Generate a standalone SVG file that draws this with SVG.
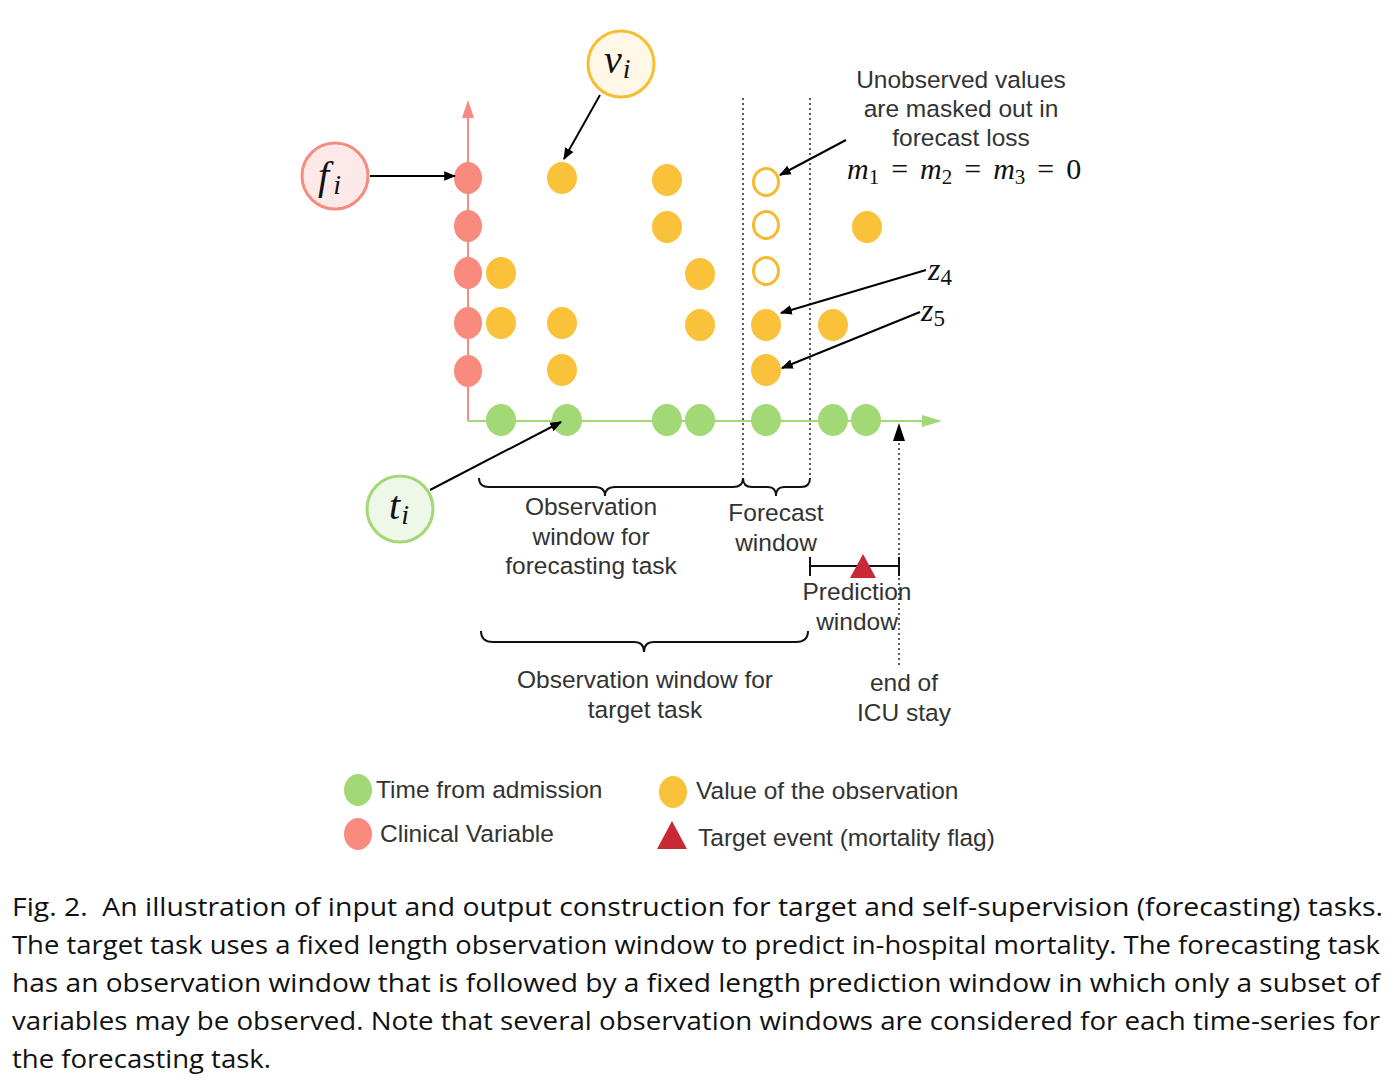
<svg xmlns="http://www.w3.org/2000/svg" width="1398" height="1082" viewBox="0 0 1398 1082">
<defs>
<style>
.lbl{font-family:"Liberation Sans",Arial,sans-serif;font-size:24.5px;fill:#333;text-anchor:middle}
.leg{font-family:"Liberation Sans",Arial,sans-serif;font-size:24.5px;fill:#333}
.math{font-family:"Liberation Serif","DejaVu Serif",serif;font-style:italic;fill:#111}
.mathn{font-family:"Liberation Serif","DejaVu Serif",serif;fill:#111}
.cap{font-family:"Open Sans","Liberation Sans",sans-serif;font-size:26px;fill:#111}
.red{fill:#f88a7e}
.org{fill:#fac23b}
.grn{fill:#a2d875}
.hol{fill:#fff;stroke:#f7b92e;stroke-width:3}
.arr{stroke:#000;stroke-width:2;fill:none;marker-end:url(#ah)}
.dot{stroke:#333;stroke-width:1.6;stroke-dasharray:2 3;fill:none}
.brace{stroke:#111;stroke-width:2;fill:none}
</style>
<marker id="ah" viewBox="0 0 10 10" refX="9" refY="5" markerWidth="6" markerHeight="6" markerUnits="strokeWidth" orient="auto">
<path d="M0,1 L10,5 L0,9 Z" fill="#000"/>
</marker>
</defs>
<rect width="1398" height="1082" fill="#fff"/>

<g id="axes">
<line x1="468" y1="421" x2="468" y2="116" stroke="#f88a80" stroke-width="2"/>
<path d="M462,118 L468,100 L474,118 Z" fill="#f88a80"/>
<line x1="468" y1="421" x2="924" y2="421" stroke="#a2d875" stroke-width="2"/>
<path d="M922,415 L942,421 L922,427 Z" fill="#a2d875"/>
</g>

<g id="dotted-lines">
<line class="dot" x1="743" y1="98" x2="743" y2="478"/>
<line class="dot" x1="810" y1="98" x2="810" y2="478"/>
</g>

<g id="variables">
<ellipse class="red" cx="468" cy="178" rx="14" ry="16"/>
<ellipse class="red" cx="468" cy="226" rx="14" ry="16"/>
<ellipse class="red" cx="468" cy="273" rx="14" ry="16"/>
<ellipse class="red" cx="468" cy="323" rx="14" ry="16"/>
<ellipse class="red" cx="468" cy="371" rx="14" ry="16"/>
</g>

<g id="times">
<ellipse class="grn" cx="501" cy="420" rx="15" ry="16"/>
<ellipse class="grn" cx="567" cy="420" rx="15" ry="16"/>
<ellipse class="grn" cx="667" cy="420" rx="15" ry="16"/>
<ellipse class="grn" cx="700" cy="420" rx="15" ry="16"/>
<ellipse class="grn" cx="766" cy="420" rx="15" ry="16"/>
<ellipse class="grn" cx="833" cy="420" rx="15" ry="16"/>
<ellipse class="grn" cx="866" cy="420" rx="15" ry="16"/>
</g>

<g id="values">
<ellipse class="org" cx="562" cy="178" rx="15" ry="16"/>
<ellipse class="org" cx="667" cy="180" rx="15" ry="16"/>
<ellipse class="org" cx="667" cy="227" rx="15" ry="16"/>
<ellipse class="org" cx="867" cy="227" rx="15" ry="16"/>
<ellipse class="org" cx="501" cy="273" rx="15" ry="16"/>
<ellipse class="org" cx="700" cy="274" rx="15" ry="16"/>
<ellipse class="org" cx="501" cy="323" rx="15" ry="16"/>
<ellipse class="org" cx="562" cy="323" rx="15" ry="16"/>
<ellipse class="org" cx="700" cy="325" rx="15" ry="16"/>
<ellipse class="org" cx="766" cy="325" rx="15" ry="16"/>
<ellipse class="org" cx="833" cy="325" rx="15" ry="16"/>
<ellipse class="org" cx="562" cy="370" rx="15" ry="16"/>
<ellipse class="org" cx="766" cy="370" rx="15" ry="16"/>
<ellipse class="hol" cx="766" cy="182" rx="12.5" ry="13.5"/>
<ellipse class="hol" cx="766" cy="225" rx="12.5" ry="13.5"/>
<ellipse class="hol" cx="766" cy="271" rx="12.5" ry="13.5"/>
</g>

<g id="node-fi">
<circle cx="335" cy="176" r="33" fill="#fde9e8" stroke="#f88a80" stroke-width="3"/>
<text x="318" y="189" class="math" font-size="40">f<tspan font-size="28" dx="4" dy="5">i</tspan></text>
</g>
<g id="node-vi">
<circle cx="621" cy="64" r="33" fill="#fff8e6" stroke="#f7bd35" stroke-width="3"/>
<text x="604" y="73" class="math" font-size="40">v<tspan font-size="28" dx="1" dy="5">i</tspan></text>
</g>
<g id="node-ti">
<circle cx="400" cy="509" r="33" fill="#eef8e8" stroke="#a2d875" stroke-width="3"/>
<text x="389" y="519" class="math" font-size="40">t<tspan font-size="28" dx="1" dy="5">i</tspan></text>
</g>

<g id="connectors">
<line class="arr" x1="370" y1="176" x2="455" y2="176"/>
<line class="arr" x1="600" y1="95" x2="564" y2="159"/>
<line class="arr" x1="430" y1="490" x2="561" y2="422"/>
<line class="arr" x1="846" y1="140" x2="780" y2="175"/>
<line class="arr" x1="926" y1="270" x2="781" y2="313"/>
<line class="arr" x1="920" y1="312" x2="782" y2="368"/>
<line class="dot" x1="899" y1="665" x2="899" y2="440"/>
<path d="M893,441 L899,423 L905,441 Z" fill="#000"/>
</g>

<g id="annotation-masked">
<text class="lbl" x="961" y="88">Unobserved values</text>
<text class="lbl" x="961" y="117">are masked out in</text>
<text class="lbl" x="961" y="146">forecast loss</text>
<text x="847" y="179" class="math" font-size="30">m<tspan font-size="21" dy="5" font-style="normal">1</tspan><tspan class="mathn" font-style="normal" dy="-5" dx="12">=</tspan><tspan dx="12">m</tspan><tspan font-size="21" dy="5" font-style="normal">2</tspan><tspan font-style="normal" dy="-5" dx="12">=</tspan><tspan dx="12">m</tspan><tspan font-size="21" dy="5" font-style="normal">3</tspan><tspan font-style="normal" dy="-5" dx="12">=</tspan><tspan font-style="normal" dx="12">0</tspan></text>
</g>

<g id="label-z4">
<text x="928" y="280" class="math" font-size="32">z<tspan font-size="23" dy="5" font-style="normal">4</tspan></text>
</g>
<g id="label-z5">
<text x="921" y="321" class="math" font-size="32">z<tspan font-size="23" dy="5" font-style="normal">5</tspan></text>
</g>

<g id="brace-obs-forecast">
<path class="brace" d="M479,478 Q479,487 489,487 L595,487 Q605,487 605,496 Q605,487 615,487 L733,487 Q743,487 743,478"/>
<text class="lbl" x="591" y="515">Observation</text>
<text class="lbl" x="591" y="545">window for</text>
<text class="lbl" x="591" y="574">forecasting task</text>
</g>

<g id="brace-forecast">
<path class="brace" d="M743,478 Q743,487 752,487 L768,487 Q776,487 776,496 Q776,487 784,487 L801,487 Q810,487 810,478"/>
<text class="lbl" x="776" y="521">Forecast</text>
<text class="lbl" x="776" y="551">window</text>
</g>

<g id="prediction-window">
<line x1="810" y1="566" x2="899" y2="566" stroke="#111" stroke-width="2"/>
<line x1="810" y1="557" x2="810" y2="576" stroke="#111" stroke-width="2"/>
<line x1="899" y1="557" x2="899" y2="576" stroke="#111" stroke-width="2"/>
<path d="M863,554 L876,578 L850,578 Z" fill="#c72a35"/>
<text class="lbl" x="857" y="600">Prediction</text>
<text class="lbl" x="857" y="630">window</text>
</g>

<g id="brace-obs-target">
<path class="brace" d="M481,631 Q481,642 493,642 L634,642 Q644,642 644,652 Q644,642 654,642 L796,642 Q808,642 808,631"/>
<text class="lbl" x="645" y="688">Observation window for</text>
<text class="lbl" x="645" y="718">target task</text>
</g>

<g id="end-of-icu">
<text class="lbl" x="904" y="691">end of</text>
<text class="lbl" x="904" y="721">ICU stay</text>
</g>

<g id="legend">
<ellipse class="grn" cx="358" cy="790" rx="14" ry="16"/>
<text class="leg" x="376" y="798">Time from admission</text>
<ellipse class="red" cx="358" cy="834" rx="14" ry="16"/>
<text class="leg" x="380" y="842">Clinical Variable</text>
<ellipse class="org" cx="673" cy="792" rx="14" ry="16"/>
<text class="leg" x="696" y="799">Value of the observation</text>
<path d="M672,821 L687,849 L657,849 Z" fill="#c72a35"/>
<text class="leg" x="698" y="846">Target event (mortality flag)</text>
</g>

<g id="caption">
<text class="cap" x="12" y="916" textLength="1371" lengthAdjust="spacingAndGlyphs">Fig. 2.&#160; An illustration of input and output construction for target and self-supervision (forecasting) tasks.</text>
<text class="cap" x="12" y="954" textLength="1368" lengthAdjust="spacingAndGlyphs">The target task uses a fixed length observation window to predict in-hospital mortality. The forecasting task</text>
<text class="cap" x="12" y="992" textLength="1368" lengthAdjust="spacingAndGlyphs">has an observation window that is followed by a fixed length prediction window in which only a subset of</text>
<text class="cap" x="12" y="1030" textLength="1368" lengthAdjust="spacingAndGlyphs">variables may be observed. Note that several observation windows are considered for each time-series for</text>
<text class="cap" x="12" y="1068" textLength="259" lengthAdjust="spacingAndGlyphs">the forecasting task.</text>
</g>
</svg>
